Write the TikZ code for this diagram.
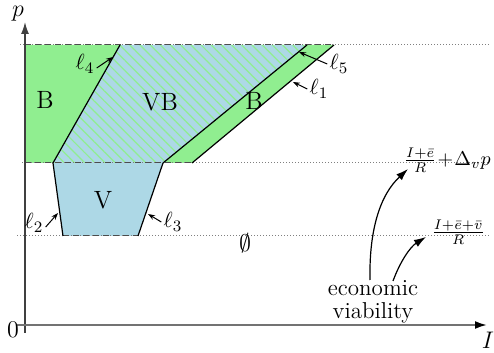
\documentclass[tikz,border=0pt]{standalone}
\usepackage{amsmath}
\usetikzlibrary{arrows.meta,patterns.meta}
\definecolor{bgreen}{HTML}{90EE90}
\definecolor{vblue}{HTML}{ADD8E6}
\tikzset{
  px/.style={x=0.5pt,y=-0.5pt},
  lbl/.style={font=\fontsize{11}{13}\selectfont, inner sep=1pt},
  reg/.style={font=\fontsize{12.5}{14}\selectfont},
  lline/.style={black, line width=0.6pt},
  guide/.style={gray, densely dotted, line width=0.5pt},
  edge/.style={black!70, densely dashed, line width=0.5pt},
  larrow/.style={-{Stealth[length=3.5pt,width=2.5pt]}, line width=0.5pt},
  bigarrow/.style={-{Latex[length=6pt,width=4pt]}, line width=0.6pt},
  flabel/.style={inner sep=0pt, font=\fontsize{10}{12}\selectfont},
}
\begin{document}
\begin{tikzpicture}[px]
\useasboundingbox (0,0) rectangle (494,353);
% corners
\coordinate (t0) at (25,45);
\coordinate (t4) at (120,45);
\coordinate (t5) at (307,45);
\coordinate (t1) at (334,45);
\coordinate (m0) at (25,163);
\coordinate (m4) at (53,163);
\coordinate (m5) at (163,163);
\coordinate (m1) at (192,163);
\coordinate (b2) at (63,236);
\coordinate (b3) at (138,236);
% fills
\fill[bgreen] (t0) -- (t4) -- (m4) -- (m0) -- cycle;
\fill[bgreen] (t5) -- (t1) -- (m1) -- (m5) -- cycle;
\fill[vblue] (t4) -- (t5) -- (m5) -- (m4) -- cycle;
\fill[pattern={Lines[angle=-45,distance=3.6pt,line width=0.6pt]}, pattern color=bgreen] (t4) -- (t5) -- (m5) -- (m4) -- cycle;
\fill[vblue] (m4) -- (m5) -- (b3) -- (b2) -- cycle;
% guide lines
\draw[guide] (20,45) -- (490,45);
\draw[guide] (22,163) -- (490,163);
\draw[guide] (17,236) -- (490,236);
\draw[edge] (t0) -- (t1);
\draw[edge] (m0) -- (m1);
\draw[edge] (b2) -- (b3);
% boundary lines
\draw[lline] (m4) -- (t4);
\draw[lline] (m5) -- (t5);
\draw[lline] (m1) -- (t1);
\draw[lline] (m4) -- (b2);
\draw[lline] (m5) -- (b3);
% axes
\coordinate (ytop) at (25,22);
\coordinate (xend) at (487,325);
\draw[black!75, line width=0.7pt, -{Latex[length=6pt,width=4pt]}] (25,333) -- (ytop);
\draw[black!55, line width=1pt, -{Latex[length=6pt,width=4pt,black]}] (17,325) -- (xend);
\node[font=\fontsize{13}{15}\selectfont] (plab) at (18,14) {$p$};
\node[font=\fontsize{13}{15}\selectfont] (Ilab) at (488,340) {$I$};
\node[font=\fontsize{12}{14}\selectfont] (zero) at (13,330) {0};
% region labels
\node[reg] (B1) at (45,100) {B};
\node[reg] (VB) at (160,102) {VB};
\node[reg] (B2) at (254,101) {B};
\node[reg] (V) at (103,200) {V};
\node[reg] (empty) at (245,243) {$\emptyset$};
% line labels
\node[lbl] (l4) at (85,64) {$\ell_4$};
\coordinate (l4p) at (113,57);
\draw[larrow] (l4.east) ++(0,-2pt) -- (l4p);
\node[lbl] (l5) at (339,64) {$\ell_5$};
\coordinate (l5p) at (299,52);
\draw[larrow] (l5.west) -- (l5p);
\node[lbl] (l1) at (319,89) {$\ell_1$};
\coordinate (l1p) at (293,82);
\draw[larrow] (l1.west) -- (l1p);
\node[lbl] (l2) at (34,223) {$\ell_2$};
\coordinate (l2p) at (58,213);
\draw[larrow] (l2.east) ++(0,-2pt) -- (l2p);
\node[lbl] (l3) at (173,222) {$\ell_3$};
\coordinate (l3p) at (148,214);
\draw[larrow] (l3.west) -- (l3p);
% right labels
\node[flabel, anchor=east] (f1) at (491,160) {$\medmuskip=1mu\frac{I+\bar{e}}{R}+\Delta_v p$};
\node[flabel, anchor=west] (f2) at (431,232) {$\frac{I+\bar{e}+\bar{v}}{R}$};
\node[align=center, font=\fontsize{11.5}{11.5}\selectfont, inner sep=1pt] (eco) at (373,302) {economic\\viability};
\coordinate (a1s) at (370,280);
\coordinate (a1e) at (408,169);
\coordinate (a2s) at (393,281);
\coordinate (a2e) at (426,237);
\draw[bigarrow] (a1s) .. controls (369,230) and (380,195) .. (a1e);
\draw[bigarrow] (a2s) .. controls (400,262) and (410,247) .. (a2e);
\end{tikzpicture}
\end{document}
